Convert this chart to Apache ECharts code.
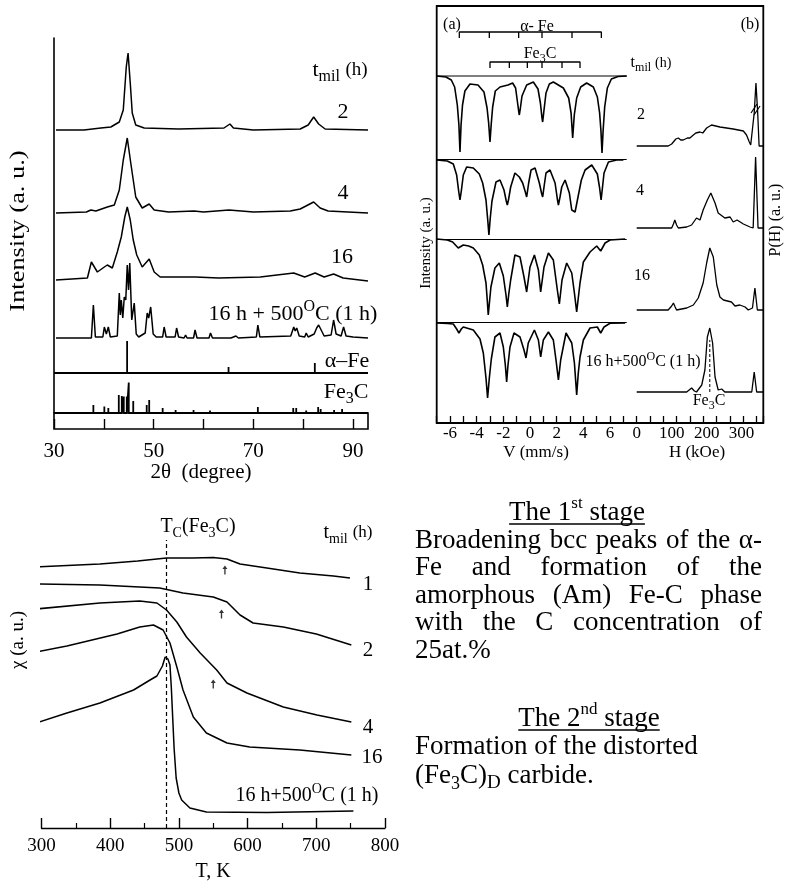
<!DOCTYPE html>
<html><head><meta charset="utf-8">
<script src="https://cdn.jsdelivr.net/npm/echarts@6/dist/echarts.min.js"></script>
<style>html,body{margin:0;padding:0;background:#fff}#c{width:790px;height:881px}</style>
</head><body><div id="c"></div>
<script>
// ================= DATA =================
// --- XRD (2θ in degree, intensity in a.u. of the stacked plot) ---
const xrdTickLabels = [30, 50, 70, 90];
const xrd2h = [[30.4,283],[36,283],[39.4,285],[41.4,286],[43.1,291],[43.9,303],[44.5,346],[44.86,360],[45.3,330],[45.7,300],[46.4,288],[48.1,285],[55,284],[64.1,285],[65.3,289],[66,285],[70,283],[79.4,284],[81,288],[82.1,296],[83.1,289],[84.4,284],[93,283]];
const xrd4h = [[30.4,200],[36.5,201],[37.4,203],[37.8,205],[38.4,202],[40.7,206],[42.1,208],[43.1,223],[43.9,253],[44.7,275],[45.4,250],[46.4,216],[47.7,205],[49.1,209],[50.1,203],[53,201],[58.1,202],[60,201],[65.1,203],[70,201],[77.4,202],[79.4,204],[82.1,211],[83.4,205],[85,202],[93,200]];
const xrd16h = [[30.4,133],[36.7,135],[37.5,151],[38.7,141],[40.1,146],[40.7,148],[41.7,145],[42.7,161],[43.5,176],[44.2,196],[44.7,206],[45.3,193],[45.9,173],[46.6,158],[47.7,146],[49.1,154],[50.1,141],[51.3,136],[54.1,136],[58.4,136],[63,135],[71.4,136],[78.1,140],[80.3,136],[82.4,140],[84.2,136],[86.1,139],[88,135],[93,132]];
const xrd16hAnn = [[30.4,75],[35.4,75],[35.7,77],[36,75],[37.5,75],[37.9,108],[38.3,76],[39.8,76],[40.1,86],[40.5,79],[40.9,86],[41.3,76],[42.7,77],[43.1,120],[43.3,98],[43.5,113],[43.8,95],[44.1,116],[44.4,113],[44.7,148],[44.95,123],[45.2,150],[45.6,93],[46.1,110],[46.5,79],[47,76],[48.3,80],[48.7,100],[49,95],[49.4,106],[49.9,79],[50.5,76],[51.8,76],[52.1,86],[52.5,76],[54.3,76],[54.6,85],[55,76],[56.1,75],[56.4,78],[56.7,75],[58,75],[58.3,83],[58.7,75],[61.1,75],[61.4,80],[61.8,75],[64.9,75],[65.2,77],[65.5,75],[66.5,77],[67,75],[70.6,76],[70.9,88],[71.3,76],[77.5,77],[78.1,86],[78.4,82],[78.7,85],[79.2,77],[80.3,76],[80.6,80],[81,76],[82.2,79],[82.7,85],[83.1,88],[83.6,83],[84.2,77],[85.6,78],[86.1,93],[86.6,79],[87.6,77],[88.1,86],[88.6,77],[90,76],[93,75]];
// reference patterns: [2θ, relative height]
const aFeSticks = [[44.67,32],[65.02,6],[82.33,10]];
const fe3cSticks = [[37.9,8],[40.1,6.5],[40.9,5],[43.0,18],[43.6,17],[44.0,16.5],[44.6,16.5],[45.0,30.5],[45.9,12],[48.6,8],[49.1,13],[51.8,5],[54.4,3],[56.0,1.5],[58.0,3],[61.3,2.5],[70.9,6],[78.0,5],[78.6,5],[80.6,2.5],[83.0,6],[83.5,4],[84.9,2],[86.2,3],[87.8,4]];
const aFeStickBase = 40, fe3cStickBase = 0;

// --- Mössbauer spectra (V mm/s, a.u.) ---
const moss2h = [[-7.0,347],[-6.3,346],[-5.9,343],[-5.65,336],[-5.45,318],[-5.33,298],[-5.25,271],[-5.17,298],[-5.06,318],[-4.88,332],[-4.5,339],[-3.9,338],[-3.45,331],[-3.22,315],[-3.1,300],[-3.0,281],[-2.9,300],[-2.8,316],[-2.6,332],[-2.25,336],[-1.65,338],[-1.3,340],[-1.08,335],[-0.95,322],[-0.85,312],[-0.8,308],[-0.72,315],[-0.6,327],[-0.25,338],[0.25,341],[0.6,334],[0.78,320],[0.9,305],[0.95,301],[1.05,313],[1.2,330],[1.45,339],[1.75,341],[2.5,335],[2.9,325],[3.08,310],[3.2,285],[3.32,308],[3.5,325],[3.8,336],[4.25,340],[4.75,336],[5.05,326],[5.22,310],[5.32,292],[5.4,270],[5.48,292],[5.6,316],[5.8,335],[6.1,344],[6.6,346.5],[7.25,347]];
const moss4h = [[-7.0,263],[-6.2,262],[-5.75,259],[-5.5,248],[-5.35,232],[-5.25,223],[-5.15,232],[-5.0,248],[-4.75,256],[-4.25,255],[-3.8,249],[-3.55,240],[-3.3,223],[-3.15,200],[-3.08,188],[-2.98,205],[-2.85,222],[-2.55,241],[-2.25,243],[-1.95,233],[-1.78,222],[-1.7,218],[-1.6,224],[-1.45,236],[-1.13,250],[-0.8,246],[-0.55,240],[-0.35,231],[-0.25,226],[-0.1,240],[0.08,253],[0.38,255],[0.7,240],[0.88,229],[0.95,226],[1.05,236],[1.2,250],[1.5,253],[1.88,240],[2.05,224],[2.13,218],[2.25,226],[2.38,236],[2.63,243],[2.95,230],[3.13,213],[3.38,211],[3.6,226],[3.85,243],[4.13,253],[4.63,258],[5.05,249],[5.22,235],[5.33,223],[5.43,235],[5.55,250],[5.88,261],[6.5,263],[7.0,263]];
const moss16h = [[-7.0,184],[-6.2,183],[-5.8,181],[-5.38,175],[-5.0,178],[-4.6,177],[-4.25,175],[-3.8,168],[-3.55,158],[-3.3,140],[-3.2,122],[-3.13,108],[-3.03,122],[-2.93,136],[-2.63,155],[-2.3,160],[-2.0,147],[-1.8,128],[-1.7,116],[-1.6,128],[-1.45,143],[-1.13,168],[-0.75,166],[-0.45,146],[-0.25,131],[0.0,156],[0.33,168],[0.63,153],[0.8,131],[1.05,156],[1.38,170],[1.75,163],[2.05,133],[2.2,119],[2.4,143],[2.75,160],[3.13,150],[3.33,130],[3.5,111],[3.62,125],[3.75,140],[4.0,161],[4.5,171],[5.0,177],[5.3,172],[5.63,180],[6.0,183],[7.13,184]];
const moss16hAnn = [[-7.0,100],[-6.2,99.5],[-5.75,99],[-5.5,94],[-5.33,90],[-5.15,94],[-5.0,96],[-4.25,93],[-3.75,84],[-3.5,70],[-3.3,45],[-3.18,25],[-3.05,45],[-2.9,64],[-2.63,86],[-2.25,90],[-2.0,76],[-1.85,58],[-1.75,41],[-1.65,58],[-1.5,76],[-1.2,90],[-0.75,86],[-0.45,73],[-0.3,65],[-0.13,80],[0.33,93],[0.63,83],[0.8,66],[1.0,83],[1.38,91],[1.75,83],[1.95,63],[2.13,43],[2.3,63],[2.7,90],[3.13,80],[3.33,60],[3.5,28],[3.62,50],[3.75,66],[4.0,83],[4.5,95],[5.05,96],[5.3,90],[5.55,96],[6.0,99.7],[7.13,100]];
const mossBaselines = [347, 263.5, 183.5, 100.5];
const mossBaseRange = [-7, 7.25];
const aFeLines = [-5.3, -3.05, -0.85, 0.9, 3.15, 5.35];
const fe3cLines = [-3.0, -1.55, -0.2, 0.9, 2.4, 3.75];

// --- hyperfine field distributions P(H) (H kOe, a.u.) ---
const ph2h = [[0,277],[90,277],[100,279],[105,281],[112,284],[119,285],[126,283],[133,283],[145,285],[152,285],[162,288],[169,290],[181,291],[189,290],[200,295],[214,298],[238,296],[276,294],[305,292],[314,288],[322,281],[326,278],[331,277],[336,310],[341,340],[346,310],[350,277],[362,277]];
const ph4h = [[0,195],[100,195],[105,199],[109,203],[114,198],[119,195],[143,196],[157,198],[171,205],[181,203],[190,213],[202,223],[212,230],[224,220],[233,210],[252,205],[267,206],[276,201],[287,203],[305,199],[324,196],[333,195],[340,266],[347,195],[362,195]];
const ph16h = [[0,113],[90,113],[100,117],[105,120],[110,116],[114,113],[143,115],[162,118],[176,125],[190,140],[200,160],[209,175],[219,166],[229,138],[238,126],[248,123],[271,121],[281,117],[295,118],[310,116],[319,113],[331,115],[338,135],[345,113],[362,113]];
const ph16hAnn = [[0,31],[143,31],[157,35],[165,32],[171,31],[186,38],[195,53],[202,86],[209,95],[217,80],[224,46],[233,33],[243,34],[252,31],[329,31],[336,51],[343,31],[362,31]];
const phFe3C = [[209,31],[209,83]];

// --- susceptibility χ(T) (T in K, a.u.) ---
const chi1 = [[292,261],[385,264],[440,267],[482,270],[520,270],[550,270.5],[570,269],[589,264],[628,260],[676,255],[725,252],[749,250]];
const chi2 = [[292,244],[385,243],[472,240],[506,235],[550,231],[570,226],[589,213],[608,205],[652,201],[700,194],[751,183]];
const chi4 = [[292,219],[385,225],[443,227],[468,225],[482,218],[497,206],[511,191],[531,175],[555,158],[570,145],[599,135],[652,121],[701,113],[751,106]];
const chi16 = [[292,176],[337,182],[410,194],[443,201],[463,203],[477,198],[487,185],[497,161],[506,138],[521,111],[540,95],[570,85],[603,81],[676,78],[751,73]];
const chi16Ann = [[292,105],[337,115],[385,125],[434,138],[458,148],[468,152],[476,162],[480,171],[484,169],[487,163],[489,140],[491,110],[493,80],[496,50],[500,35],[504,28],[516,20],[540,16],[628,15.5],[754,17]];
const chiArrows = [[567,258],[562,214],[550,144]];
const tcFe3C = 481;

// ================= RENDER =================
const SERIF = 'Liberation Serif';
const chart = echarts.init(document.getElementById('c'));

function line(data, xi, yi, extra) {
  return Object.assign({type:'line', data, xAxisIndex:xi, yAxisIndex:yi, symbol:'none', showSymbol:false,
    clip:false, silent:true, animation:false, lineStyle:{color:'#000', width:1.5}}, extra || {});
}
function sticks(list, base, x0, x1) {
  const d = [[x0, base]];
  list.forEach(s => { d.push([s[0], base], [s[0], base + s[1]], [s[0], base]); });
  d.push([x1, base]);
  return d;
}
function bracket(pos, level, drop) {
  const d = [];
  pos.forEach((p, i) => {
    if (i === 0) d.push([p, level - drop], [p, level]);
    else d.push([p, level], [p, level - drop], [p, level]);
  });
  d.pop();
  return d;
}
function rt(x, y, text, size, o) {
  const sub = Math.round(size * 0.72);
  return Object.assign({type:'text', x, y, silent:true, z:10, style:{text, fontSize:size, fontFamily:SERIF, fill:'#000',
    align:'center', verticalAlign:'middle', lineHeight:Math.round(size*1.35),
    rich:{
      sub:{fontSize:sub, fontFamily:SERIF, fill:'#000', verticalAlign:'bottom', lineHeight:sub},
      sup:{fontSize:sub, fontFamily:SERIF, fill:'#000', verticalAlign:'top', lineHeight:sub},
      m:{fontSize:Math.round(size*0.85), fontFamily:SERIF, fill:'#000', lineHeight:Math.round(size*0.85)}
    }}}, o || {});
}
const mctx = document.createElement('canvas').getContext('2d');
function wordW(w, size) { mctx.font = size + 'px "' + SERIF + '"'; return mctx.measureText(w).width; }
function textLine(words, x0, x1, y, size, justify) {
  const ws = words.map(w => wordW(w, size));
  const tot = ws.reduce((a, b) => a + b, 0);
  const gap = justify ? (x1 - x0 - tot) / (words.length - 1) : wordW(' ', size);
  let x = x0;
  return words.map((w, i) => {
    const el = {type:'text', x, y, silent:true, style:{text:w, fontSize:size, fontFamily:SERIF, fill:'#000', align:'left', verticalAlign:'middle'}};
    x += ws[i] + gap;
    return el;
  });
}
function heading(xc, y, parts, size) {
  // parts: [plain, sup, plain]
  const sub = Math.round(size * 0.62);
  const w = wordW(parts[0], size) + wordW(parts[1], sub) + wordW(parts[2], size);
  const x0 = xc - w / 2;
  return [
    {type:'text', x:x0, y, silent:true, style:{text:parts[0] + '{s|' + parts[1] + '}' + parts[2], fontSize:size, fontFamily:SERIF, fill:'#000',
      align:'left', verticalAlign:'middle', lineHeight:Math.round(size*1.3),
      rich:{s:{fontSize:sub, fontFamily:SERIF, fill:'#000', verticalAlign:'top', lineHeight:sub}}}},
    {type:'line', silent:true, shape:{x1:x0, y1:y + 11, x2:x0 + w, y2:y + 11}, style:{stroke:'#000', lineWidth:1.3}}
  ];
}

const TS = 27, TX0 = 415, TX1 = 762;
const graphics = [
  // XRD panel
  rt(18, 231, 'Intensity (a. u.)', 22, {rotation:Math.PI/2, scaleX:1.2}),
  rt(201, 472, '2θ  (degree)', 21),
  rt(340, 70, 't{sub|mil} {m|(h)}', 22),
  rt(343, 112, '2', 22), rt(343, 193, '4', 22), rt(342, 257, '16', 22),
  rt(293, 314, '16 h + 500{sup|O}C (1 h)', 22),
  rt(347, 361, 'α–Fe', 22),
  rt(346, 392, 'Fe{sub|3}C', 22),
  // Mössbauer panel
  rt(452, 25, '(a)', 16), rt(750, 25, '(b)', 16),
  rt(537, 27, 'α- Fe', 16),
  rt(540, 54, 'Fe{sub|3}C', 16),
  rt(651, 63, 't{sub|mil} {m|(h)}', 16),
  rt(641, 115, '2', 16), rt(640, 191, '4', 16), rt(642, 276, '16', 16),
  rt(643, 362, '16 h+500{sup|O}C (1 h)', 16),
  rt(709, 401, 'Fe{sub|3}C', 16),
  rt(426, 243, 'Intensity (a. u.)', 15, {rotation:Math.PI/2}),
  rt(776, 220, 'P(H) (a. u.)', 16, {rotation:Math.PI/2}),
  rt(536, 453, 'V (mm/s)', 17), rt(697, 453, 'H (kOe)', 17),
  {type:'line', silent:true, shape:{x1:751, y1:113, x2:757, y2:104}, style:{stroke:'#000', lineWidth:1.2}},
  {type:'line', silent:true, shape:{x1:754, y1:115, x2:760, y2:106}, style:{stroke:'#000', lineWidth:1.2}},
  // χ panel
  rt(198, 527, 'T{sub|C}(Fe{sub|3}C)', 20),
  rt(348, 533, 't{sub|mil} {m|(h)}', 20),
  rt(368, 584, '1', 21), rt(368, 650, '2', 21), rt(368, 727, '4', 21), rt(372, 757, '16', 21),
  rt(307, 796, '16 h+500{sup|O}C (1 h)', 20),
  rt(18, 640, 'χ (a. u.)', 19, {rotation:Math.PI/2}),
  rt(213, 872, 'T, K', 20)
];
// text panel
graphics.push(...heading(577, 513, ['The 1', 'st', ' stage'], TS));
graphics.push(...textLine(['Broadening','bcc','peaks','of','the','α-'], TX0, TX1, 541, TS, true));
graphics.push(...textLine(['Fe','and','formation','of','the'], TX0, TX1, 568, TS, true));
graphics.push(...textLine(['amorphous','(Am)','Fe-C','phase'], TX0, TX1, 596, TS, true));
graphics.push(...textLine(['with','the','C','concentration','of'], TX0, TX1, 623, TS, true));
graphics.push(...textLine(['25at.%'], TX0, TX1, 651, TS, false));
graphics.push(...heading(589, 719, ['The 2', 'nd', ' stage'], TS));
graphics.push(...textLine(['Formation','of','the','distorted'], TX0, TX1, 747, TS, false));
graphics.push({type:'text', x:TX0, y:776, silent:true, style:{text:'(Fe{s|3}C){d|D} carbide.', fontSize:TS, fontFamily:SERIF, fill:'#000',
  align:'left', verticalAlign:'middle', lineHeight:34,
  rich:{s:{fontSize:18, fontFamily:SERIF, fill:'#000', verticalAlign:'bottom', lineHeight:22}, d:{fontSize:19, fontFamily:SERIF, fill:'#000', verticalAlign:'bottom', lineHeight:24}}}});

const lab = (size, o) => Object.assign({fontFamily:SERIF, fontSize:size, color:'#000'}, o || {});
const hiddenY = (gi, max) => ({gridIndex:gi, type:'value', min:0, max, show:false});

const option = {
  animation:false,
  grid:[
    {left:54, top:38, width:314, height:375},                                  // 0 XRD curves
    {left:54, top:413, width:314, height:16, show:true, borderColor:'#000', borderWidth:1.6, backgroundColor:'transparent'}, // 1 XRD axis strip
    {left:436.7, top:6, width:326.6, height:417, show:true, borderColor:'#000', borderWidth:1.8, backgroundColor:'transparent'}, // 2 Mössbauer frame
    {left:423.3, top:6, width:213.4, height:417},                                // 3 V
    {left:636.7, top:6, width:126.6, height:417},                                // 4 H
    {left:41.5, top:540, width:343.5, height:288}                                // 5 χ(T)
  ],
  xAxis:[
    {gridIndex:0, type:'value', min:30, max:93, show:false},
    {gridIndex:1, type:'value', min:30, max:93, interval:10, axisLine:{show:false},
      axisTick:{inside:true, length:10, lineStyle:{color:'#000', width:1.4}}, splitLine:{show:false},
      axisLabel:lab(21, {margin:12, showMaxLabel:false, formatter:v => xrdTickLabels.includes(v) ? String(v) : ''})},
    {gridIndex:2, type:'value', min:-7, max:17.5, interval:1, axisLine:{show:false},
      axisTick:{inside:true, length:7, lineStyle:{color:'#000', width:1.3}}, splitLine:{show:false}, axisLabel:{show:false}},
    {gridIndex:3, type:'value', min:-8, max:8, interval:2, axisLine:{show:false}, axisTick:{show:false}, splitLine:{show:false},
      axisLabel:lab(17, {margin:2, showMinLabel:false, showMaxLabel:false})},
    {gridIndex:4, type:'value', min:0, max:362, interval:100, axisLine:{show:false}, axisTick:{show:false}, splitLine:{show:false},
      axisLabel:lab(17, {margin:2, showMaxLabel:false})},
    {gridIndex:5, type:'value', min:300, max:800, interval:100, axisLine:{show:true, onZero:false, lineStyle:{color:'#000', width:1.4}},
      axisTick:{inside:true, length:10, lineStyle:{color:'#000', width:1.4}},
      minorTick:{show:true, splitNumber:2, length:5, lineStyle:{color:'#000', width:1.2}},
      splitLine:{show:false}, axisLabel:lab(19, {margin:9})}
  ],
  yAxis:[
    {gridIndex:0, type:'value', min:0, max:375, axisLine:{show:true, onZero:false, lineStyle:{color:'#000', width:1.6}},
      axisTick:{show:false}, axisLabel:{show:false}, splitLine:{show:false}},
    hiddenY(1, 1), hiddenY(2, 1), hiddenY(3, 417), hiddenY(4, 417), hiddenY(5, 288)
  ],
  graphic:{elements:graphics},
  series:[
    // XRD
    line(xrd2h, 0, 0), line(xrd4h, 0, 0), line(xrd16h, 0, 0), line(xrd16hAnn, 0, 0),
    line(sticks(aFeSticks, aFeStickBase, 30, 93), 0, 0, {lineStyle:{color:'#000', width:1.8}}),
    line(sticks(fe3cSticks, fe3cStickBase, 30, 93), 0, 0, {lineStyle:{color:'#000', width:1.8}}),
    // Mössbauer spectra
    line(moss2h, 3, 3, {lineStyle:{color:'#000', width:1.6}}),
    line(moss4h, 3, 3, {lineStyle:{color:'#000', width:1.6}}),
    line(moss16h, 3, 3, {lineStyle:{color:'#000', width:1.6}}),
    line(moss16hAnn, 3, 3, {lineStyle:{color:'#000', width:1.6}}),
    ...mossBaselines.map(b => line([[mossBaseRange[0], b], [mossBaseRange[1], b]], 3, 3, {lineStyle:{color:'#000', width:1}})),
    line(bracket(aFeLines, 391, 6), 3, 3, {lineStyle:{color:'#000', width:1.3}}),
    line(bracket(fe3cLines, 361, 6), 3, 3, {lineStyle:{color:'#000', width:1.3}}),
    // P(H)
    line(ph2h, 4, 4, {lineStyle:{color:'#000', width:1.3}}),
    line(ph4h, 4, 4, {lineStyle:{color:'#000', width:1.3}}),
    line(ph16h, 4, 4, {lineStyle:{color:'#000', width:1.3}}),
    line(ph16hAnn, 4, 4, {lineStyle:{color:'#000', width:1.3}}),
    line(phFe3C, 4, 4, {lineStyle:{color:'#000', width:1, type:[3,2]}}),
    // χ(T)
    line(chi1, 5, 5, {markLine:{silent:true, symbol:'none', animation:false, label:{show:false},
      lineStyle:{color:'#000', width:1.2, type:[4,3]}, data:[{xAxis:tcFe3C}]}}),
    line(chi2, 5, 5), line(chi4, 5, 5), line(chi16, 5, 5), line(chi16Ann, 5, 5),
    {type:'scatter', xAxisIndex:5, yAxisIndex:5, data:chiArrows, silent:true, animation:false,
      symbol:'path://M3,0 L6,4 L3.8,4 L3.8,10 L2.2,10 L2.2,4 L0,4 Z', symbolSize:[5,9], itemStyle:{color:'#000'}}
  ]
};
chart.setOption(option);
</script>
</body></html>
